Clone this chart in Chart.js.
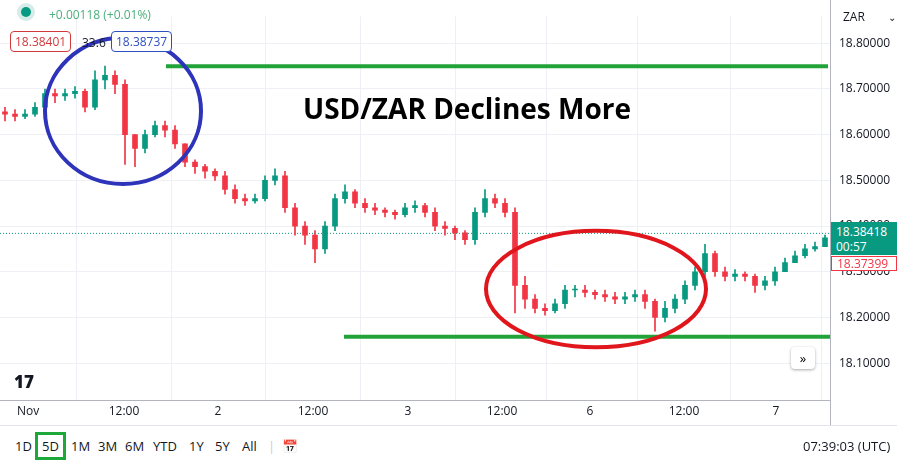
<!DOCTYPE html>
<html><head><meta charset="utf-8">
<script src="https://cdn.jsdelivr.net/npm/chart.js@4"></script>
<style>
body{margin:0;background:#fff;font-family:"Open Sans",Arial,sans-serif;width:897px;height:463px;overflow:hidden;position:relative}
#wrap{position:absolute;left:0;top:0;width:897px;height:425px}
.tb{position:absolute;top:425px;left:0;width:897px;height:38px;border-top:1px solid #e0e3eb;font-size:13px;color:#131722}
.tb span{position:absolute;top:11px}
.hdr{position:absolute;font-size:12px}
.box{position:absolute;font-size:12px;border:1px solid;border-radius:4px;padding:1px 4px;background:#fff}
</style></head><body>
<div id="wrap"><canvas id="c" width="897" height="425"></canvas></div>
<div class="hdr" style="left:21px;top:7px;width:10px;height:10px;border-radius:5px;background:#089981;box-shadow:0 0 0 4px #d6ece8"></div>
<div class="hdr" style="left:49px;top:6px;color:#4caf7d">+0.00118 (+0.01%)</div>
<div class="box" style="left:10px;top:31px;color:#d23a3a;border-color:#d23a3a">18.38401</div>
<div class="hdr" style="left:82px;top:34px;color:#131722">33.6</div>
<div class="box" style="left:111px;top:31px;color:#2d4fc4;border-color:#2d4fc4">18.38737</div>
<div class="hdr" style="left:843px;top:8px;color:#131722">ZAR <span style="margin-left:20px;font-size:10px">⌄</span></div>
<div style="position:absolute;left:831px;top:222px;width:66px;height:33px;background:#089981;color:#fff;font-size:12px;line-height:15px;padding:2px 0 0 5px;box-sizing:border-box">18.38418<br>00:57</div>
<div style="position:absolute;left:831px;top:256px;width:66px;height:15px;background:#fff;border:1px solid #f23645;color:#f23645;font-size:12px;line-height:13px;padding-left:5px;box-sizing:border-box">18.37399</div>
<div style="position:absolute;left:14px;top:370px;font-weight:900;font-size:17px;color:#131722">17</div>
<div style="position:absolute;left:791px;top:347px;width:24px;height:22px;border-radius:4px;background:#fff;box-shadow:0 1px 3px #aaa;text-align:center;font-size:13px;line-height:22px">»</div>
<div class="tb">
<span style="left:15px">1D</span>
<span style="left:35px;top:6px;border:3px solid #1fa83a;padding:2px 4px">5D</span>
<span style="left:71px">1M</span><span style="left:98px">3M</span><span style="left:125px">6M</span><span style="left:153px">YTD</span><span style="left:189px">1Y</span><span style="left:215px">5Y</span><span style="left:242px">All</span>
<span style="left:268px;color:#ccc">|</span><span style="left:282px">📅</span>
<span style="left:803px">07:39:03 (UTC)</span>
</div>
<script>
const closes=[18.645,18.64,18.645,18.66,18.69,18.685,18.69,18.695,18.66,18.72,18.73,18.71,18.60,18.57,18.60,18.62,18.61,18.58,18.54,18.53,18.52,18.51,18.48,18.46,18.455,18.46,18.50,18.51,18.44,18.40,18.38,18.35,18.40,18.46,18.475,18.45,18.44,18.435,18.43,18.425,18.44,18.445,18.43,18.40,18.395,18.385,18.37,18.43,18.46,18.45,18.43,18.27,18.24,18.22,18.215,18.23,18.26,18.26,18.255,18.25,18.245,18.24,18.245,18.25,18.235,18.20,18.22,18.24,18.27,18.30,18.34,18.30,18.29,18.295,18.29,18.27,18.28,18.30,18.32,18.335,18.35,18.355,18.374];
const highs=[18.66,18.655,18.655,18.67,18.70,18.70,18.70,18.705,18.70,18.74,18.75,18.74,18.72,18.60,18.61,18.63,18.63,18.62,18.58,18.545,18.535,18.525,18.52,18.49,18.47,18.47,18.51,18.525,18.52,18.45,18.41,18.39,18.41,18.47,18.49,18.48,18.46,18.45,18.44,18.435,18.45,18.455,18.45,18.44,18.41,18.40,18.39,18.44,18.48,18.47,18.46,18.44,18.29,18.25,18.23,18.24,18.27,18.27,18.27,18.26,18.26,18.255,18.255,18.26,18.26,18.24,18.235,18.25,18.28,18.31,18.36,18.345,18.31,18.305,18.30,18.295,18.29,18.31,18.33,18.345,18.36,18.365,18.38];
const lows=[18.63,18.63,18.635,18.64,18.655,18.67,18.675,18.68,18.65,18.655,18.70,18.69,18.535,18.53,18.56,18.595,18.595,18.57,18.53,18.515,18.505,18.50,18.47,18.45,18.445,18.45,18.455,18.49,18.43,18.38,18.36,18.32,18.34,18.39,18.45,18.44,18.43,18.425,18.42,18.415,18.42,18.43,18.42,18.39,18.38,18.37,18.36,18.36,18.42,18.44,18.42,18.21,18.22,18.21,18.205,18.21,18.22,18.245,18.245,18.24,18.235,18.23,18.23,18.235,18.22,18.17,18.19,18.21,18.23,18.26,18.29,18.29,18.28,18.28,18.28,18.255,18.26,18.27,18.30,18.32,18.33,18.345,18.36];
const tickPos=[2.3,11.9,21.3,30.8,40.3,49.7,58.5,67.9,77.1];
const tickLabels=['Nov','12:00','2','12:00','3','12:00','6','12:00','7'];
const resLevel=18.75, supLevel=18.158, lastPrice=18.384;
const opens=closes.map((c,i)=>i===0?18.65:closes[i-1]);
const col=closes.map((c,i)=>c>=opens[i]?'#089981':'#f23645');
const bodies=closes.map((c,i)=>({x:i,y:[opens[i],Math.abs(c-opens[i])<0.002?c+0.002:c]}));
const wicks=closes.map((c,i)=>({x:i,y:[lows[i],highs[i]]}));
const deco={id:'deco',
 beforeDatasetsDraw(ch){const {ctx,chartArea:a,scales:{x,y}}=ch;ctx.save();ctx.strokeStyle='#089981';ctx.setLineDash([1,2]);ctx.lineWidth=1;
  const py=y.getPixelForValue(lastPrice);ctx.beginPath();ctx.moveTo(a.left,py);ctx.lineTo(a.right,py);ctx.stroke();ctx.restore();},
 afterDatasetsDraw(ch){const {ctx,chartArea:a,scales:{x,y}}=ch;ctx.save();
  const ell=(cx,cy,rx,ry,c)=>{const px=x.getPixelForValue(cx),py=y.getPixelForValue(cy);
   const rpx=x.getPixelForValue(cx+rx)-px,rpy=py-y.getPixelForValue(cy+ry);
   ctx.beginPath();ctx.ellipse(px,py,rpx,rpy,0,0,Math.PI*2);ctx.strokeStyle=c;ctx.lineWidth=4;ctx.stroke();};
  ell(11.8,18.652,7.8,0.16,'#2e34b9');ell(59.1,18.262,11,0.1275,'#e0161c');
  ctx.fillStyle='#000';ctx.font='bold 28px "Open Sans"';ctx.textAlign='center';ctx.textBaseline='middle';
  ctx.fillText('USD/ZAR Declines More',467,111);
  ctx.strokeStyle='#b2b5be';ctx.lineWidth=1;ctx.beginPath();ctx.moveTo(a.right+0.5,0);ctx.lineTo(a.right+0.5,425);ctx.stroke();
  ctx.beginPath();ctx.moveTo(0,a.bottom+0.5);ctx.lineTo(a.right,a.bottom+0.5);ctx.stroke();
  ctx.restore();}};
new Chart(document.getElementById('c'),{
 type:'bar',
 data:{datasets:[
  {type:'line',data:[{x:16.1,y:resLevel},{x:82.3,y:resLevel}],borderColor:'#22a33a',borderWidth:4,pointRadius:0},
  {type:'line',data:[{x:33.9,y:supLevel},{x:82.5,y:supLevel}],borderColor:'#22a33a',borderWidth:4,pointRadius:0},
  {data:wicks,backgroundColor:col,barThickness:1,grouped:false},
  {data:bodies,backgroundColor:col,barThickness:5,grouped:false}
 ]},
 plugins:[deco],
 options:{responsive:false,animation:false,events:[],
  layout:{padding:0},
  plugins:{legend:{display:false},tooltip:{enabled:false}},
  scales:{
   x:{type:'linear',min:-0.5,max:82.5,offset:false,
    afterBuildTicks:s=>{s.ticks=tickPos.map(v=>({value:v}));},
    afterFit:s=>{s.height=25;},
    ticks:{callback:(v,i)=>tickLabels[i],color:'#131722',font:{size:12,family:'Open Sans'},maxRotation:0,autoSkip:false,padding:4},
    grid:{color:'#eef0f5',drawTicks:false},border:{display:false}},
   y:{position:'right',min:18.0193,max:18.8593,
    afterBuildTicks:s=>{s.ticks=[18.1,18.2,18.3,18.4,18.5,18.6,18.7,18.8].map(v=>({value:v}));},
    afterFit:s=>{s.width=67;},
    ticks:{callback:v=>v.toFixed(5),color:'#131722',font:{size:12,family:'Open Sans'},padding:9},
    grid:{color:'#eef0f5',drawTicks:false},border:{display:false}}
  }}
});
</script></body></html>
